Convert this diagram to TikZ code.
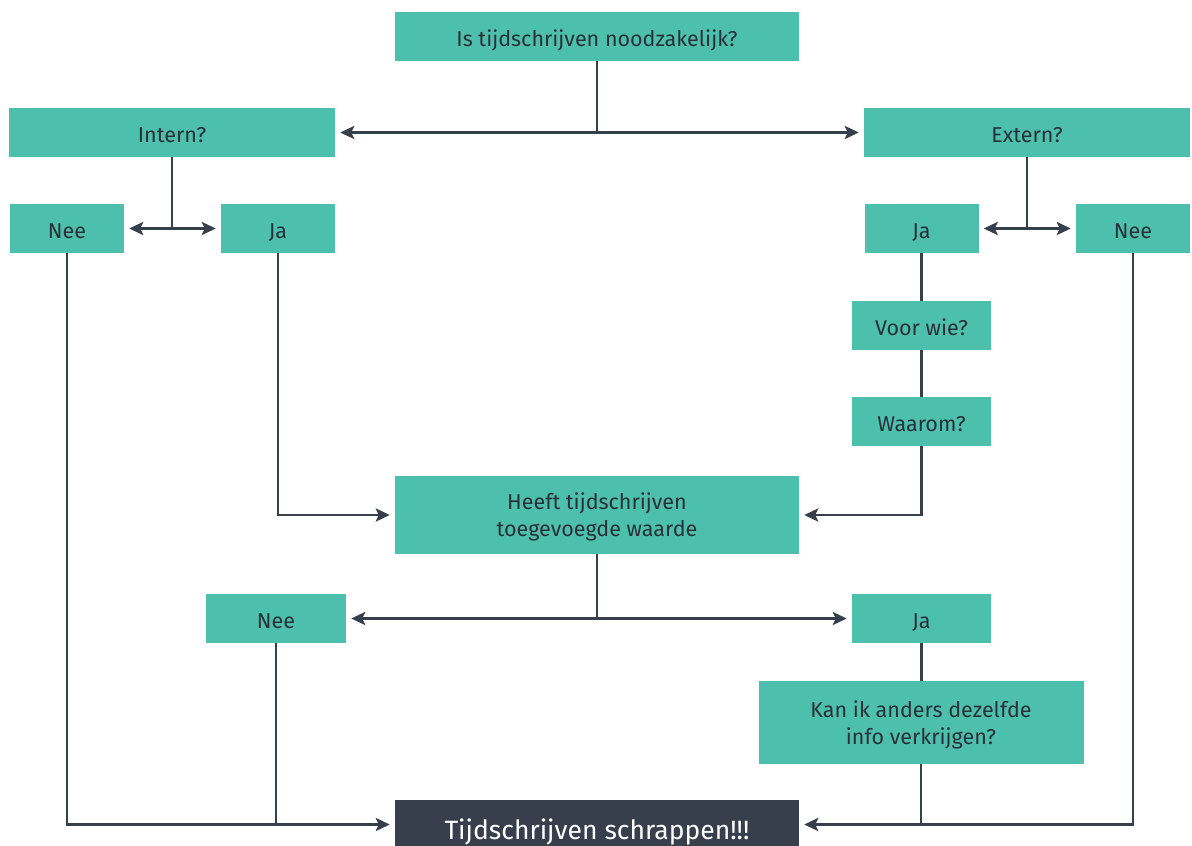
\documentclass[tikz,border=0pt]{standalone}
\usepackage{fontspec}
\setmainfont{Fira Sans}
\usetikzlibrary{arrows.meta,calc}
\definecolor{teal}{HTML}{4CC0AD}
\definecolor{dark}{HTML}{373E4C}
\definecolor{txt}{HTML}{2A2F38}
\tikzset{
  box/.style={fill=teal, text=txt, inner sep=0pt, align=center, text depth=0pt,
    font=\fontsize{21.5}{27}\selectfont},
  one/.style={text height=20pt},
  endbox/.style={fill=dark, text=white, inner sep=0pt, align=center,
    text height=29pt, text depth=0pt,
    font=\fontsize{26.5}{30}\selectfont},
  conn/.style={draw=dark, line width=2.7pt},
  arr/.style={conn, -{Stealth[length=14pt,width=13pt,inset=3pt]}, shorten >=5pt}
}
\begin{document}
\begin{tikzpicture}[x=1pt,y=-1pt]
\useasboundingbox (0,0) rectangle (1192,846);
\node[box, one, minimum width=404pt, minimum height=49pt] (top) at (597,36.5) {Is tijdschrijven noodzakelijk?};
\node[box, one, minimum width=326pt, minimum height=49pt] (intern) at (172,132.5) {Intern?};
\node[box, one, minimum width=326pt, minimum height=49pt] (extern) at (1027,132.5) {Extern?};
\node[box, one, minimum width=114pt, minimum height=49pt] (neeL) at (67,228.5) {Nee};
\node[box, one, minimum width=114pt, minimum height=49pt] (jaL) at (278,228.5) {Ja};
\node[box, one, minimum width=114pt, minimum height=49pt] (jaR) at (921.5,228.5) {Ja};
\node[box, one, minimum width=114pt, minimum height=49pt] (neeR) at (1133,228.5) {Nee};
\node[box, one, minimum width=139pt, minimum height=49pt] (voor) at (921.5,325.5) {Voor wie?};
\node[box, one, minimum width=139pt, minimum height=49pt] (waarom) at (921.5,421.5) {Waarom?};
\node[box, minimum width=404pt, minimum height=78pt] (heeft) at (597,515) {Heeft tijdschrijven\\toegevoegde waarde};
\node[box, one, minimum width=140pt, minimum height=49pt] (neeM) at (276,618.5) {Nee};
\node[box, one, minimum width=139pt, minimum height=49pt] (jaM) at (921.5,618.5) {Ja};
\node[box, minimum width=325pt, minimum height=83pt] (kan) at (921,722.5) {Kan ik anders dezelfde\\info verkrijgen?};
\node[endbox, minimum width=404pt, minimum height=49pt] (schrap) at (597,824.5) {Tijdschrijven schrappen!!!};

\draw[arr] (top.south) |- (intern.east);
\draw[arr] (top.south) |- (extern.west);
\draw[arr] (intern.south) |- (neeL.east);
\draw[arr] (intern.south) |- (jaL.west);
\draw[arr] (extern.south) |- (jaR.east);
\draw[arr] (extern.south) |- (neeR.west);
\draw[arr] (neeL.south) |- (schrap.west);
\draw[arr] (jaL.south) |- (heeft.west);
\draw[conn] (jaR.south) -- (voor.north);
\draw[conn] (voor.south) -- (waarom.north);
\draw[arr] (waarom.south) |- (heeft.east);
\draw[arr] (heeft.south) |- (neeM.east);
\draw[arr] (heeft.south) |- (jaM.west);
\draw[conn] (neeM.south) -- (neeM.south |- schrap.west);
\draw[conn] (jaM.south) -- (jaM.south |- kan.north);
\draw[conn] (kan.south) -- (kan.south |- schrap.east);
\draw[arr] (neeR.south) |- (schrap.east);
\end{tikzpicture}
\end{document}
